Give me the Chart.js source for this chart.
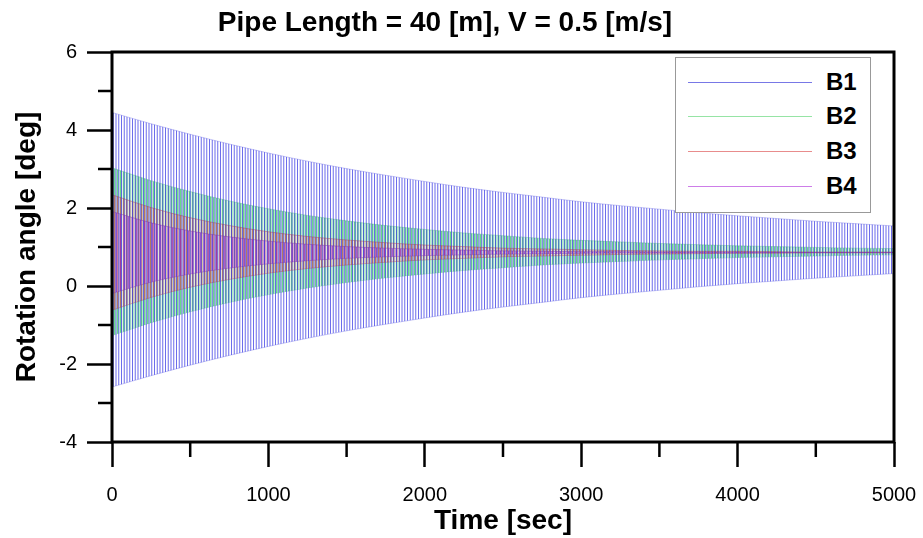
<!DOCTYPE html>
<html>
<head>
<meta charset="utf-8">
<script src="https://cdn.jsdelivr.net/npm/chart.js@4.4.1/dist/chart.umd.min.js"></script>
<style>
  body { margin: 0; background: #fff; }
  #wrap { position: relative; width: 923px; height: 538px; }
  #legend {
    position: absolute; left: 675px; top: 57px; width: 196px; height: 156px;
    border: 1px solid #999; background: #fff; box-sizing: border-box;
    font: bold 24px "Liberation Sans", Arial, sans-serif; color: #000;
  }
  .row { position: absolute; left: 12px; height: 28px; width: 180px; }
  .row .ln { position: absolute; left: 0; top: 14px; width: 124px; height: 1px; }
  .row .tx { position: absolute; left: 138px; top: 0; line-height: 28px; }
</style>
</head>
<body>
<div id="wrap">
  <canvas id="chart" width="923" height="538"></canvas>
  <div id="legend"></div>
</div>
<script>
// envelope of each signal (upper / lower peak, every 250 s)
const times = [0, 250, 500, 750, 1000, 1250, 1500, 1750, 2000, 2250, 2500,
               2750, 3000, 3250, 3500, 3750, 4000, 4250, 4500, 4750, 5000];

const b1Upper = [4.45, 4.16, 3.89, 3.64, 3.41, 3.20, 3.01, 2.84, 2.68, 2.53, 2.40,
                 2.28, 2.16, 2.06, 1.97, 1.88, 1.80, 1.73, 1.66, 1.60, 1.54];
const b1Lower = [-2.59, -2.30, -2.03, -1.78, -1.55, -1.34, -1.15, -0.98, -0.82, -0.67, -0.54,
                 -0.42, -0.30, -0.20, -0.11, -0.02, 0.06, 0.13, 0.20, 0.26, 0.32];

const b2Upper = [3.03, 2.70, 2.42, 2.18, 1.98, 1.81, 1.67, 1.55, 1.45, 1.36, 1.29,
                 1.22, 1.17, 1.13, 1.09, 1.06, 1.03, 1.01, 0.99, 0.97, 0.96];
const b2Lower = [-1.27, -0.94, -0.66, -0.42, -0.22, -0.05, 0.09, 0.21, 0.31, 0.40, 0.47,
                 0.54, 0.59, 0.63, 0.67, 0.70, 0.73, 0.75, 0.77, 0.79, 0.80];

const b3Upper = [2.34, 2.01, 1.75, 1.55, 1.39, 1.27, 1.18, 1.11, 1.05, 1.01, 0.97,
                 0.95, 0.93, 0.91, 0.90, 0.89, 0.89, 0.88, 0.87, 0.87, 0.87];
const b3Lower = [-0.62, -0.29, -0.03, 0.17, 0.33, 0.45, 0.54, 0.61, 0.67, 0.71, 0.75,
                 0.77, 0.79, 0.81, 0.82, 0.83, 0.84, 0.84, 0.85, 0.85, 0.85];

const b4Upper = [1.91, 1.62, 1.41, 1.26, 1.15, 1.07, 1.01, 0.97, 0.94, 0.92, 0.90,
                 0.89, 0.88, 0.88, 0.87, 0.87, 0.87, 0.86, 0.86, 0.86, 0.86];
const b4Lower = [-0.19, 0.10, 0.31, 0.46, 0.57, 0.65, 0.71, 0.75, 0.78, 0.80, 0.82,
                 0.83, 0.84, 0.85, 0.85, 0.85, 0.85, 0.86, 0.86, 0.86, 0.86];

const seriesNames = ['B1', 'B2', 'B3', 'B4'];
const xMinorTicks = [500, 1500, 2500, 3500, 4500];
const yMinorTicks = [-3, -1, 1, 3, 5];

const FONT = '"Liberation Sans", Arial, sans-serif';

// vertical stripes to mimic the dense oscillation
function stripes(width, cols) {
    const c = document.createElement('canvas');
    c.width = width;
    c.height = 4;
    const g = c.getContext('2d');
    cols.forEach(col => {
        g.fillStyle = col[2];
        g.fillRect(col[0], 0, col[1], 4);
    });
    return g.createPattern(c, 'repeat');
}

const blue = 'rgba(60,60,228,0.75)';
const b1Pat = stripes(11, [[0, 1, blue], [2.75, 1, blue], [5.5, 1, blue], [8.25, 1, blue]]);
const b2Pat = stripes(3, [[0, 1, 'rgba(70,205,110,0.8)'], [1, 1, 'rgba(150,238,175,0.75)'], [2, 1, 'rgba(195,245,205,0.6)']]);
const b3Pat = stripes(3, [[0, 1, 'rgba(215,70,80,0.65)'], [1, 1, 'rgba(245,160,140,0.55)'], [2, 1, 'rgba(250,200,185,0.35)']]);
const b4Pat = stripes(4, [[0, 1, 'rgba(150,40,185,0.7)'], [1, 1, 'rgba(225,120,215,0.5)'], [3, 1, 'rgba(190,90,220,0.55)']]);

function pts(arr) {
    return times.map((t, i) => ({ x: t, y: arr[i] }));
}

function band(name, upper, lower, line, pattern) {
    return [{
        label: name,
        data: pts(upper),
        borderColor: line,
        borderWidth: 1,
        backgroundColor: pattern,
        fill: '+1',
        pointRadius: 0,
        cubicInterpolationMode: 'monotone'
    }, {
        label: name + ' lower',
        data: pts(lower),
        borderColor: line,
        borderWidth: 1,
        fill: false,
        pointRadius: 0,
        cubicInterpolationMode: 'monotone'
    }];
}

// B1 first in the list = painted last, on top
const datasets = [
    ...band('B1', b1Upper, b1Lower, 'rgba(80,80,225,0.3)', b1Pat),
    ...band('B4', b4Upper, b4Lower, 'rgba(150,50,150,0.45)', b4Pat),
    ...band('B3', b3Upper, b3Lower, 'rgba(190,60,60,0.45)', b3Pat),
    ...band('B2', b2Upper, b2Lower, 'rgba(70,200,100,0.35)', b2Pat)
];

const legendColors = ['rgb(120,120,230)', 'rgb(150,228,165)', 'rgb(232,140,140)', 'rgb(205,125,232)'];
const legendRowsY = [10, 44, 79, 114];
const legend = document.getElementById('legend');
seriesNames.forEach((n, i) => {
    const row = document.createElement('div');
    row.className = 'row';
    row.style.top = legendRowsY[i] + 'px';
    row.innerHTML = '<span class="ln" style="background:' + legendColors[i] + '"></span><span class="tx">' + n + '</span>';
    legend.appendChild(row);
});

// frame around the plot + short minor ticks
const frame = {
    id: 'frame',
    afterDraw(chart) {
        const { ctx, chartArea: a, scales } = chart;
        ctx.save();
        ctx.strokeStyle = '#000';
        ctx.lineWidth = 2.5;
        xMinorTicks.forEach(v => {
            const x = scales.x.getPixelForValue(v);
            ctx.beginPath(); ctx.moveTo(x, a.bottom); ctx.lineTo(x, a.bottom + 15); ctx.stroke();
        });
        yMinorTicks.forEach(v => {
            const y = scales.y.getPixelForValue(v);
            ctx.beginPath(); ctx.moveTo(a.left, y); ctx.lineTo(a.left - 14, y); ctx.stroke();
        });
        ctx.lineWidth = 3;
        ctx.strokeRect(a.left, a.top, a.right - a.left, a.bottom - a.top);
        ctx.restore();
    }
};

new Chart(document.getElementById('chart'), {
    type: 'line',
    data: { datasets: datasets },
    options: {
        responsive: false,
        animation: false,
        devicePixelRatio: 1,
        layout: { padding: { left: -4, right: 29, top: 0, bottom: 0 } },
        plugins: {
            legend: { display: false },
            tooltip: { enabled: false },
            title: {
                display: true,
                text: 'Pipe Length = 40 [m], V = 0.5 [m/s]',
                color: '#000',
                font: { family: FONT, size: 28, weight: 'bold' },
                padding: { top: 6, bottom: 12.4 }
            }
        },
        scales: {
            x: {
                type: 'linear',
                min: 0,
                max: 5000,
                afterFit: s => { s.height = 96; s.paddingLeft = 0; s.paddingRight = 0; },
                ticks: {
                    stepSize: 1000, color: '#000', font: { family: FONT, size: 20 }, padding: 16, maxRotation: 0,
                    callback: v => String(v)
                },
                grid: { drawOnChartArea: false, tickLength: 25, tickWidth: 2.5, tickColor: '#000' },
                border: { display: false },
                title: {
                    display: true, text: 'Time [sec]', color: '#000',
                    font: { family: FONT, size: 28, weight: 'bold' }, padding: { top: 0, bottom: 0 }
                }
            },
            y: {
                min: -4,
                max: 6,
                afterFit: s => { s.width = 116; },
                ticks: { stepSize: 2, color: '#000', font: { family: FONT, size: 20 }, padding: 10 },
                grid: { drawOnChartArea: false, tickLength: 25, tickWidth: 2.5, tickColor: '#000' },
                border: { display: false },
                title: {
                    display: true, text: 'Rotation angle [deg]', color: '#000',
                    font: { family: FONT, size: 28, weight: 'bold' }, padding: { top: 14, bottom: 0 }
                }
            }
        }
    },
    plugins: [frame]
});
</script>
</body>
</html>
